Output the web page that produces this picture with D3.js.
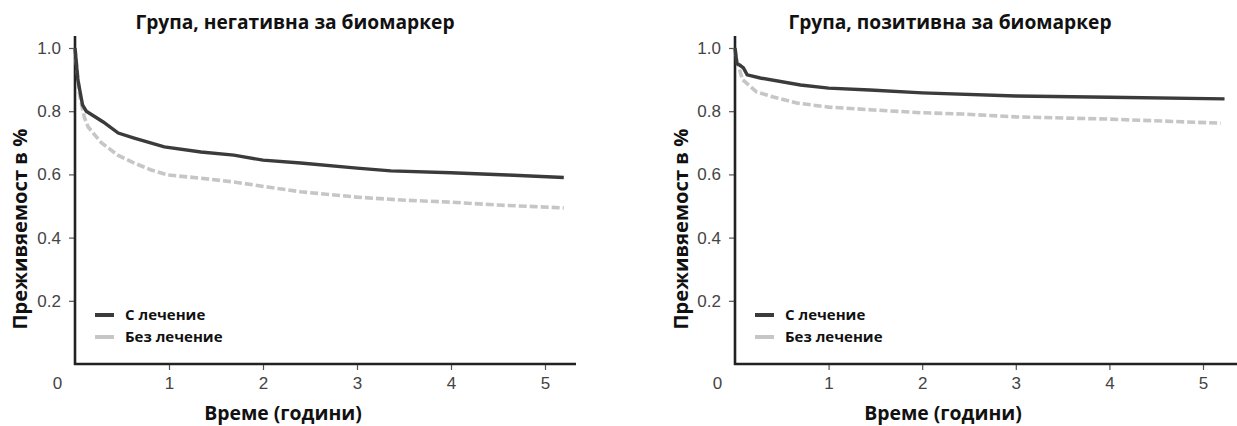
<!DOCTYPE html>
<meta charset="utf-8">
<style>
  body { margin: 0; background: #fff; }
  .tick text { font-family: "Liberation Sans", Arial, sans-serif; font-size: 17px; fill: #444; }
  .tick line { stroke: #555; stroke-width: 1.2; }
  .ttl { font-family: "Open Sans", sans-serif; font-weight: 700; fill: #111; }
</style>
<body>
<script src="https://cdn.jsdelivr.net/npm/d3@7"></script>
<script>

    var width = 1237,
        height = 426;

    // time in years, survival as fraction
    var negTreatedT = [0, 0.03, 0.08, 0.12, 0.3, 0.46, 0.63, 0.95, 1.34, 1.69, 2.0, 2.4, 3.0, 3.36, 4.0, 4.6, 5.2];
    var negTreatedS = [1.0, 0.9, 0.82, 0.8, 0.766, 0.731, 0.715, 0.687, 0.671, 0.661, 0.645, 0.636, 0.62, 0.611, 0.605, 0.598, 0.59];
    var negUntreatedT = [0, 0.05, 0.1, 0.14, 0.28, 0.46, 0.63, 0.81, 0.99, 1.34, 1.69, 2.05, 2.4, 2.76, 3.0, 3.47, 4.0, 4.5, 5.2];
    var negUntreatedS = [1.0, 0.85, 0.78, 0.75, 0.7, 0.66, 0.636, 0.614, 0.598, 0.588, 0.576, 0.56, 0.545, 0.535, 0.528, 0.519, 0.512, 0.503, 0.494];

    var posTreatedT = [0, 0.02, 0.05, 0.09, 0.13, 0.27, 0.7, 1.0, 1.44, 2.0, 3.0, 4.0, 5.23];
    var posTreatedS = [1.0, 0.95, 0.946, 0.937, 0.915, 0.905, 0.883, 0.873, 0.867, 0.858, 0.848, 0.844, 0.839];
    var posUntreatedT = [0, 0.02, 0.08, 0.23, 0.41, 0.66, 1.0, 1.48, 2.0, 2.44, 3.0, 4.0, 5.19];
    var posUntreatedS = [1.0, 0.96, 0.9, 0.861, 0.845, 0.826, 0.813, 0.804, 0.795, 0.791, 0.782, 0.775, 0.762];

    var xTicks = [0, 1, 2, 3, 4, 5];
    var yTicks = [0.2, 0.4, 0.6, 0.8, 1.0];
    var seriesNames = ["С лечение", "Без лечение"];
    var yLabel = "Преживяемост в %";
    var xLabel = "Време (години)";

    var svg = d3.select("body").append("svg")
            .attr("width", width)
            .attr("height", height);

    var panels = [
        {title: "Група, негативна за биомаркер", x0: 75, xEnd: 576, unit: 94, titleX: 295, xLabelX: 283, yLabelX: 20,
         treated: d3.zip(negTreatedT, negTreatedS), untreated: d3.zip(negUntreatedT, negUntreatedS)},
        {title: "Група, позитивна за биомаркер", x0: 735, xEnd: 1237, unit: 93.6, titleX: 950, xLabelX: 943, yLabelX: 681,
         treated: d3.zip(posTreatedT, posTreatedS), untreated: d3.zip(posUntreatedT, posUntreatedS)}
    ];

    panels.forEach(drawPanel);

    function drawPanel(p) {
        var g = svg.append("g");
        var x = d3.scaleLinear().domain([0, 1]).range([p.x0, p.x0 + p.unit]);
        var y = d3.scaleLinear().domain([0, 1]).range([364, 48]);

        var line = d3.line()
                .x(function(d) { return x(d[0]); })
                .y(function(d) { return y(d[1]); });

        // axes
        var ya = g.append("g")
                .attr("transform", "translate(" + p.x0 + ",0)")
                .call(d3.axisLeft(y).tickValues(yTicks).tickFormat(d3.format(".1f")).tickSize(6).tickPadding(8));
        ya.select(".domain").remove();

        var xa = g.append("g")
                .attr("transform", "translate(0,364)")
                .call(d3.axisBottom(x).tickValues(xTicks).tickFormat(d3.format("d")).tickSize(6).tickPadding(7));
        xa.select(".domain").remove();
        xa.selectAll(".tick").filter(function(d) { return d === 0; })
                .each(function() {
                    d3.select(this).select("line").remove();
                    d3.select(this).select("text").attr("dx", -18);
                });

        g.append("line")
                .attr("x1", p.x0).attr("x2", p.x0)
                .attr("y1", 36).attr("y2", 365)
                .attr("stroke", "#222").attr("stroke-width", 2.6);
        g.append("line")
                .attr("x1", p.x0 - 1).attr("x2", p.xEnd)
                .attr("y1", 364).attr("y2", 364)
                .attr("stroke", "#222").attr("stroke-width", 2.6);

        // curves
        g.append("path")
                .datum(p.untreated)
                .attr("d", line)
                .attr("fill", "none")
                .attr("stroke", "#c6c6c6")
                .attr("stroke-width", 3.6)
                .attr("stroke-dasharray", "8,3");
        g.append("path")
                .datum(p.treated)
                .attr("d", line)
                .attr("fill", "none")
                .attr("stroke", "#3b3b3b")
                .attr("stroke-width", 3.4);

        // legend
        var lg = g.append("g").attr("transform", "translate(" + (p.x0 + 20) + ",315)");
        seriesNames.forEach(function(name, i) {
            lg.append("line")
                    .attr("x1", 0).attr("x2", 19)
                    .attr("y1", i * 22).attr("y2", i * 22)
                    .attr("stroke", i === 0 ? "#3b3b3b" : "#c6c6c6")
                    .attr("stroke-width", 4);
            lg.append("text")
                    .attr("class", "ttl")
                    .attr("x", 30).attr("y", i * 22 + 5)
                    .style("font-size", "15px")
                    .text(name);
        });

        // titles
        g.append("text")
                .attr("class", "ttl")
                .attr("x", p.titleX).attr("y", 29)
                .attr("text-anchor", "middle")
                .style("font-size", "19.2px")
                .text(p.title);
        g.append("text")
                .attr("class", "ttl")
                .attr("x", p.xLabelX).attr("y", 420)
                .attr("text-anchor", "middle")
                .style("font-size", "19.4px")
                .text(xLabel);
        g.append("text")
                .attr("class", "ttl")
                .attr("transform", "translate(" + (p.yLabelX + 7) + ",229) rotate(-90)")
                .attr("text-anchor", "middle")
                .style("font-size", "20.2px")
                .text(yLabel);
    }

</script>
